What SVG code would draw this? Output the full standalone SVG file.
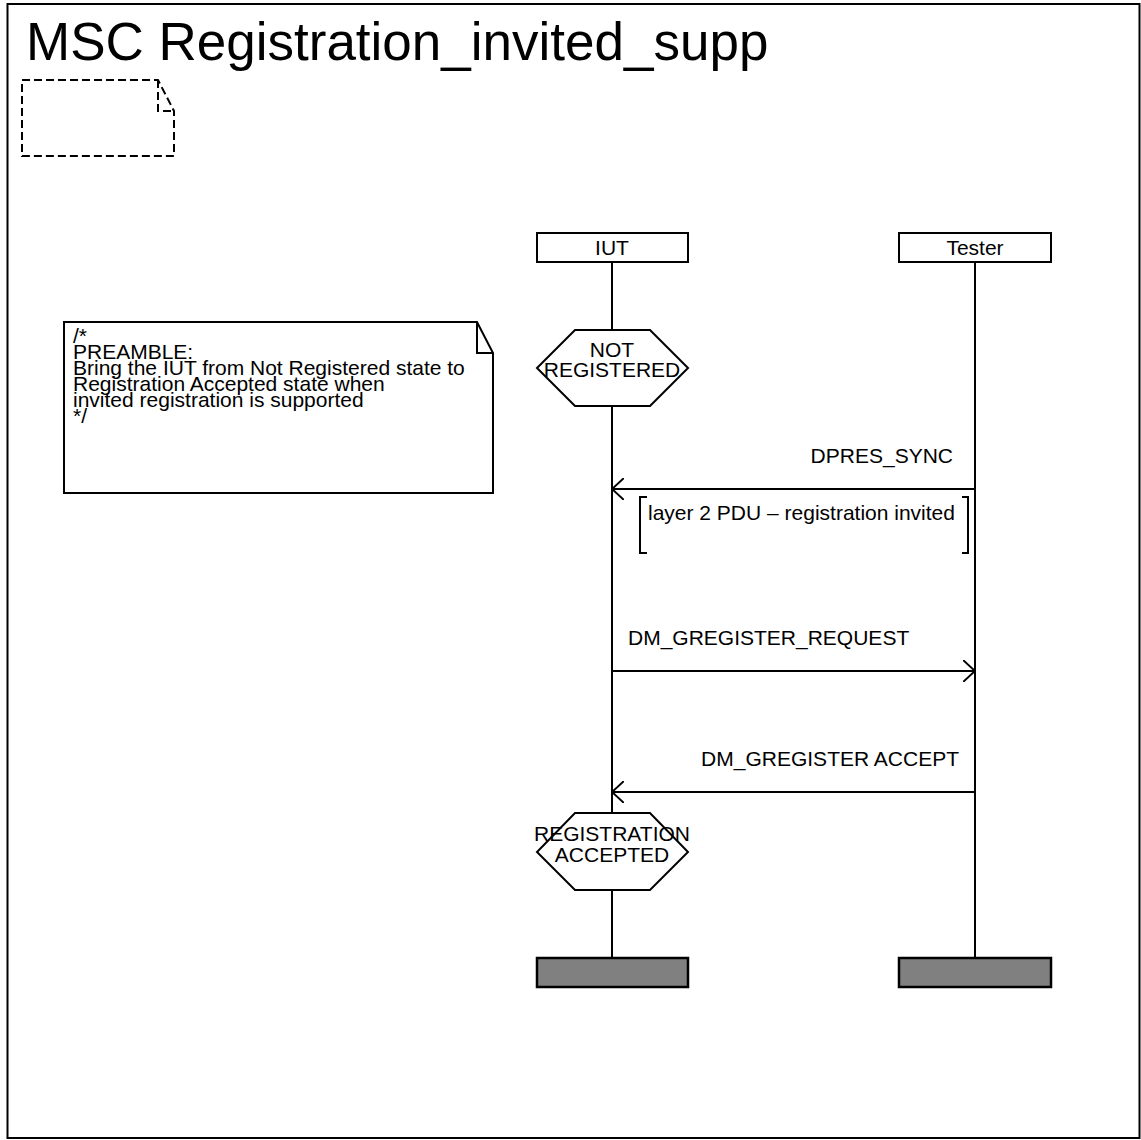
<svg xmlns="http://www.w3.org/2000/svg" width="1141" height="1140" viewBox="0 0 1141 1140">
<style>
text{font-family:"Liberation Sans",Arial,sans-serif;font-size:21px;fill:#000}
.ln{stroke:#000;stroke-width:2;fill:none}
.box{stroke:#000;stroke-width:2;fill:#fff}
.end{stroke:#000;stroke-width:2.5;fill:#808080}
.dash{stroke:#000;stroke-width:2;fill:none;stroke-dasharray:8,4}
</style>
<defs>
<marker id="ah" viewBox="0 0 12 22" refX="12" refY="11" markerWidth="12" markerHeight="22" markerUnits="userSpaceOnUse" orient="auto">
<path d="M0,0 L12,11 L0,22" fill="none" stroke="#000" stroke-width="2"/>
</marker>
</defs>
<rect x="0" y="0" width="1141" height="1140" fill="#fff"/>
<rect x="7.5" y="4" width="1132" height="1134" class="ln"/>
<text x="26" y="60" style="font-size:53px">MSC Registration_invited_supp</text>
<g id="frame-note">
<path class="dash" d="M22,80 H158 L174,111 V156 H22 Z M158,80 V111 H174"/>
</g>
<g id="comment">
<path class="box" d="M64,322 H477 L493,353 V493 H64 Z"/>
<path class="ln" d="M477,322 V353 H493"/>
<text><tspan x="73" y="343">/*</tspan><tspan x="73" y="359">PREAMBLE:</tspan><tspan x="73" y="375">Bring the IUT from Not Registered state to</tspan><tspan x="73" y="391">Registration Accepted state  when</tspan><tspan x="73" y="407">invited registration is supported</tspan><tspan x="73" y="423">*/</tspan></text>
</g>
<g id="lifelines">
<path class="ln" d="M612,262 V330 M612,406 V813 M612,890 V958"/>
<path class="ln" d="M975,262 V958"/>
</g>
<g id="IUT">
<rect class="box" x="537" y="233" width="151" height="29"/>
<text x="612" y="255" text-anchor="middle">IUT</text>
</g>
<g id="Tester">
<rect class="box" x="899" y="233" width="152" height="29"/>
<text x="975" y="255" text-anchor="middle">Tester</text>
</g>
<g id="state-not-registered">
<path class="box" d="M575,330 H650 L688,368 L650,406 H575 L537,368 Z"/>
<text x="612" y="357" text-anchor="middle">NOT</text>
<text x="612" y="377" text-anchor="middle">REGISTERED</text>
</g>
<g id="state-registration-accepted">
<path class="box" d="M575,813 H650 L688,852 L650,890 H575 L537,852 Z"/>
<text x="612" y="841" text-anchor="middle">REGISTRATION</text>
<text x="612" y="862" text-anchor="middle">ACCEPTED</text>
</g>
<g id="action">
<path class="ln" d="M647,497 H640 V553 H647 M962,497 H968 V553 H962"/>
<text x="648" y="520">layer 2 PDU – registration invited</text>
</g>
<g id="end-IUT"><rect class="end" x="537" y="958" width="151" height="29"/></g>
<g id="end-Tester"><rect class="end" x="899" y="958" width="152" height="29"/></g>
<g id="connectors">
<path class="ln" d="M975,489 H612" marker-end="url(#ah)"/>
<text x="953" y="463" text-anchor="end">DPRES_SYNC</text>
<path class="ln" d="M612,671 H975" marker-end="url(#ah)"/>
<text x="628" y="645">DM_GREGISTER_REQUEST</text>
<path class="ln" d="M975,792 H612" marker-end="url(#ah)"/>
<text x="959" y="766" text-anchor="end">DM_GREGISTER ACCEPT</text>
</g>
</svg>
